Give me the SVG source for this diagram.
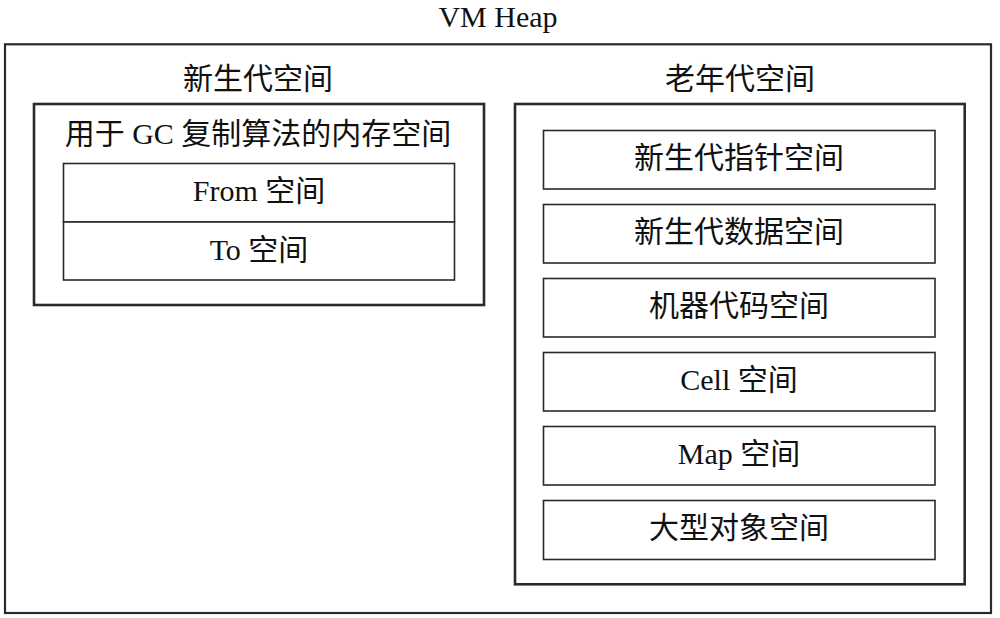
<svg xmlns="http://www.w3.org/2000/svg" width="1000" height="618" viewBox="0 0 1000 618">
<style>
.t{font-family:"Liberation Serif","Noto Sans CJK SC",serif;font-size:30px;fill:#111;text-anchor:middle}
.outer{fill:none;stroke:#2a2a2a;stroke-width:2.2}
.region{fill:none;stroke:#2a2a2a;stroke-width:2.6}
.cell{fill:#fff;stroke:#2a2a2a;stroke-width:1.6}
</style>
<rect width="1000" height="618" fill="#fff"/>
<g id="vm-heap">
<rect class="outer" x="5" y="44.3" width="986" height="568.7"/>
<text class="t" x="498" y="27">VM Heap</text>
</g>
<g id="young-gen">
<text class="t" x="258" y="89">新生代空间</text>
<rect class="region" x="34" y="104" width="450" height="201"/>
<text class="t" x="258" y="144">用于 GC 复制算法的内存空间</text>
</g>
<g id="from-space">
<rect class="cell" x="63.5" y="163.5" width="391" height="58.5"/>
<text class="t" x="259" y="201">From 空间</text>
</g>
<g id="to-space">
<rect class="cell" x="63.5" y="222" width="391" height="58"/>
<text class="t" x="259" y="259.5">To 空间</text>
</g>
<g id="old-gen">
<text class="t" x="740" y="89">老年代空间</text>
<rect class="region" x="515" y="104" width="449.7" height="480.3"/>
</g>
<g id="old-pointer-space">
<rect class="cell" x="543.5" y="130.5" width="391.5" height="58.5"/>
<text class="t" x="739" y="168">新生代指针空间</text>
</g>
<g id="old-data-space">
<rect class="cell" x="543.5" y="204.5" width="391.5" height="58.5"/>
<text class="t" x="739" y="242">新生代数据空间</text>
</g>
<g id="code-space">
<rect class="cell" x="543.5" y="278.5" width="391.5" height="58.5"/>
<text class="t" x="739" y="316">机器代码空间</text>
</g>
<g id="cell-space">
<rect class="cell" x="543.5" y="352.5" width="391.5" height="58.5"/>
<text class="t" x="739" y="390">Cell 空间</text>
</g>
<g id="map-space">
<rect class="cell" x="543.5" y="426.5" width="391.5" height="58.5"/>
<text class="t" x="739" y="464">Map 空间</text>
</g>
<g id="large-object-space">
<rect class="cell" x="543.5" y="500.5" width="391.5" height="59"/>
<text class="t" x="739" y="538">大型对象空间</text>
</g>
<g id="connectors"></g>
</svg>
